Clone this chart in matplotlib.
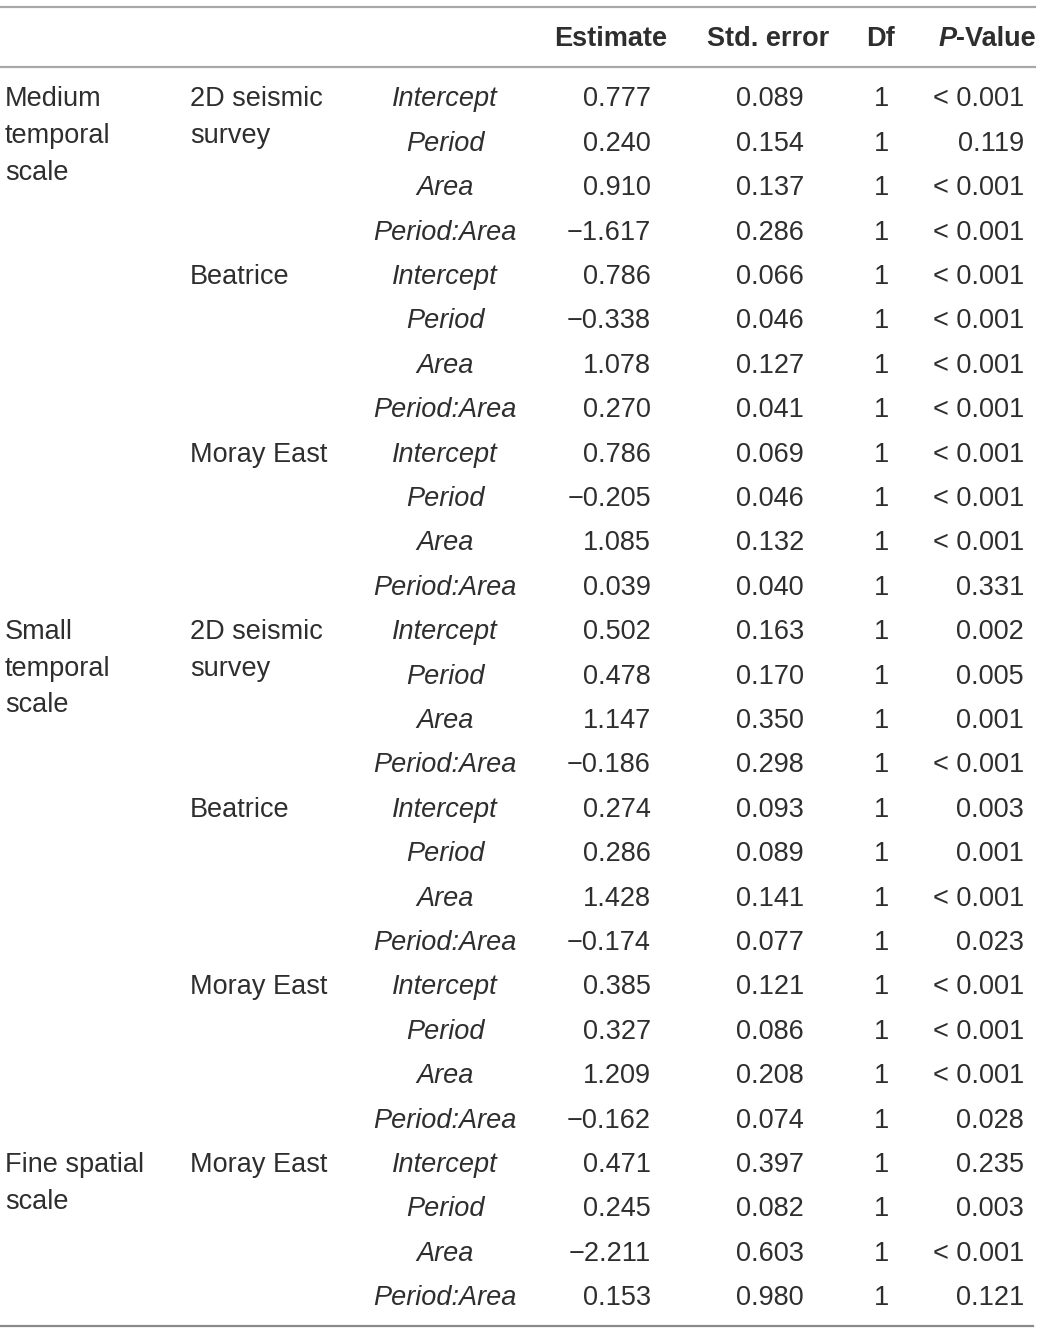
import matplotlib.pyplot as plt
import numpy as np

# table contents
groups = [["Medium", "temporal", "scale"], ["Small", "temporal", "scale"], ["Fine spatial", "scale"]]
group_rows = [0, 12, 24]
sites = [["2D seismic", "survey"], ["Beatrice"], ["Moray East"],
         ["2D seismic", "survey"], ["Beatrice"], ["Moray East"], ["Moray East"]]
site_rows = [0, 4, 8, 12, 16, 20, 24]
terms = ["Intercept", "Period", "Area", "Period:Area"] * 7
estimates = ["0.777", "0.240", "0.910", "\u22121.617",
             "0.786", "\u22120.338", "1.078", "0.270",
             "0.786", "\u22120.205", "1.085", "0.039",
             "0.502", "0.478", "1.147", "\u22120.186",
             "0.274", "0.286", "1.428", "\u22120.174",
             "0.385", "0.327", "1.209", "\u22120.162",
             "0.471", "0.245", "\u22122.211", "0.153"]
std_errors = ["0.089", "0.154", "0.137", "0.286",
              "0.066", "0.046", "0.127", "0.041",
              "0.069", "0.046", "0.132", "0.040",
              "0.163", "0.170", "0.350", "0.298",
              "0.093", "0.089", "0.141", "0.077",
              "0.121", "0.086", "0.208", "0.074",
              "0.397", "0.082", "0.603", "0.980"]
dfs = ["1"] * 28
p_values = ["< 0.001", "0.119", "< 0.001", "< 0.001",
            "< 0.001", "< 0.001", "< 0.001", "< 0.001",
            "< 0.001", "< 0.001", "< 0.001", "0.331",
            "0.002", "0.005", "0.001", "< 0.001",
            "0.003", "0.001", "< 0.001", "0.023",
            "< 0.001", "< 0.001", "< 0.001", "0.028",
            "0.235", "0.003", "< 0.001", "0.121"]

plt.rcParams['font.family'] = ['Liberation Sans', 'DejaVu Sans']
txt = '#2e2e2e'
fs = 19.5

fig = plt.figure(figsize=(10.42, 13.33), dpi=100)
ax = fig.add_axes([0, 0, 1, 1])
ax.set_xlim(0, 1042)
ax.set_ylim(1333, 0)
ax.axis('off')

# rules
ax.plot([0, 1035], [7, 7], color='#a8a8a8', lw=1.6)
ax.plot([0, 1035], [67, 67], color='#a8a8a8', lw=1.6)
ax.plot([0, 1033], [1326, 1326], color='#8a8a8a', lw=1.6)

# header
hy = 39
ax.text(611, hy, "Estimate", ha='center', va='center', fontsize=fs, fontweight='bold', color=txt)
ax.text(768, hy, "Std. error", ha='center', va='center', fontsize=fs, fontweight='bold', color=txt)
ax.text(881, hy, "Df", ha='center', va='center', fontsize=fs, fontweight='bold', color=txt)
val = ax.text(1036, hy, "-Value", ha='right', va='center', fontsize=fs, fontweight='bold', color=txt)
fig.canvas.draw()
bb = val.get_window_extent()
x_left = ax.transData.inverted().transform((bb.x0, bb.y0))[0]
ax.text(x_left, hy, "P", ha='right', va='center', fontsize=fs, fontweight='bold',
        style='italic', color=txt)

row_y = 99.5 + 44.4 * np.arange(len(terms))
line_gap = 36.5

for lines, r in zip(groups, group_rows):
    for k, s in enumerate(lines):
        ax.text(5, row_y[r] + k * line_gap, s, ha='left', va='center', fontsize=fs, color=txt)

for lines, r in zip(sites, site_rows):
    for k, s in enumerate(lines):
        ax.text(190, row_y[r] + k * line_gap, s, ha='left', va='center', fontsize=fs, color=txt)

for i, y in enumerate(row_y):
    ax.text(445, y, terms[i], ha='center', va='center', fontsize=fs, style='italic', color=txt)
    ax.text(651, y, estimates[i], ha='right', va='center', fontsize=fs, color=txt)
    ax.text(804, y, std_errors[i], ha='right', va='center', fontsize=fs, color=txt)
    ax.text(882, y, dfs[i], ha='center', va='center', fontsize=fs, color=txt)
    ax.text(1024, y, p_values[i], ha='right', va='center', fontsize=fs, color=txt)

fig.savefig('out.png', dpi=100)
